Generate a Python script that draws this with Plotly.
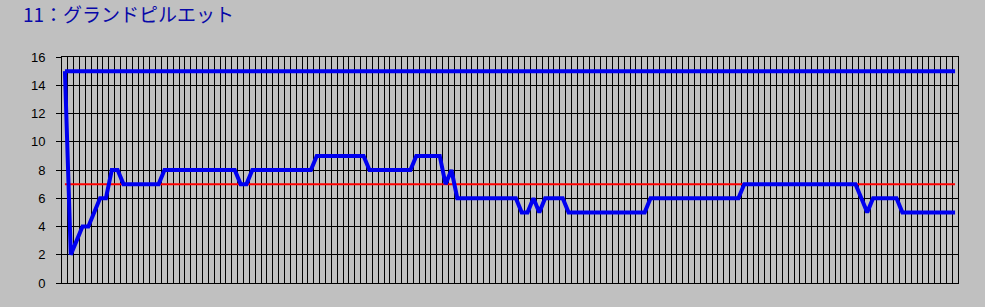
import plotly.graph_objects as go

title_text = "11：グランドピルエット"

# popularity / position over time (one value per time slot)
position = [
    15, 2, 3, 4, 4, 5, 6, 6, 8, 8,
    7, 7, 7, 7, 7, 7, 7, 8, 8, 8,
    8, 8, 8, 8, 8, 8, 8, 8, 8, 8,
    7, 7, 8, 8, 8, 8, 8, 8, 8, 8,
    8, 8, 8, 9, 9, 9, 9, 9, 9, 9,
    9, 9, 8, 8, 8, 8, 8, 8, 8, 8,
    9, 9, 9, 9, 9, 7, 8, 6, 6, 6,
    6, 6, 6, 6, 6, 6, 6, 6, 5, 5,
    6, 5, 6, 6, 6, 6, 5, 5, 5, 5,
    5, 5, 5, 5, 5, 5, 5, 5, 5, 5,
    6, 6, 6, 6, 6, 6, 6, 6, 6, 6,
    6, 6, 6, 6, 6, 6, 7, 7, 7, 7,
    7, 7, 7, 7, 7, 7, 7, 7, 7, 7,
    7, 7, 7, 7, 7, 7, 6, 5, 6, 6,
    6, 6, 6, 5, 5, 5, 5, 5, 5, 5,
    5, 5, 5,
]
slots = list(range(len(position)))
field_size = 15
reference_level = 7
y_ticks = [0, 2, 4, 6, 8, 10, 12, 14, 16]

BG = "#C0C0C0"
BLUE = "#0000F0"

fig = go.Figure()
fig.add_trace(go.Scatter(
    x=[slots[0], slots[-1]], y=[field_size, field_size], mode="lines",
    line=dict(color=BLUE, width=4), showlegend=False, hoverinfo="skip"))
fig.add_trace(go.Scatter(
    x=[slots[0], slots[-1]], y=[reference_level, reference_level], mode="lines",
    line=dict(color="#FF0000", width=2), showlegend=False, hoverinfo="skip"))
fig.add_trace(go.Scatter(
    x=slots, y=position, mode="lines",
    line=dict(color=BLUE, width=4), showlegend=False))

fig.update_layout(
    width=985, height=307, autosize=False,
    margin=dict(l=62, r=27, t=57, b=24, pad=0),
    paper_bgcolor=BG, plot_bgcolor=BG,
    title=dict(text=title_text, x=23 / 985, xanchor="left", xref="container",
               y=1 - 15 / 307, yanchor="middle", yref="container",
               font=dict(family="Noto Sans CJK JP", size=19, color="#0808A8")),
    xaxis=dict(range=[-0.5, len(position) - 0.5], showgrid=True,
               gridcolor="#000000", gridwidth=1, tick0=-0.5, dtick=1,
               showticklabels=False, ticks="", showline=True,
               linecolor="#000000", linewidth=1, mirror=True, zeroline=False,
               fixedrange=True),
    yaxis=dict(range=[0, 16], tickmode="array", tickvals=y_ticks,
               ticktext=[str(v) for v in y_ticks], showgrid=True,
               gridcolor="#000000", gridwidth=1, ticks="outside", ticklen=5,
               tickcolor="#000000", tickwidth=1, showline=True,
               linecolor="#000000", linewidth=1, mirror=True, zeroline=False,
               ticklabelstandoff=8,
               tickfont=dict(family="Liberation Sans", size=13, color="#000000"),
               fixedrange=True),
)

fig.write_html("out.html")
